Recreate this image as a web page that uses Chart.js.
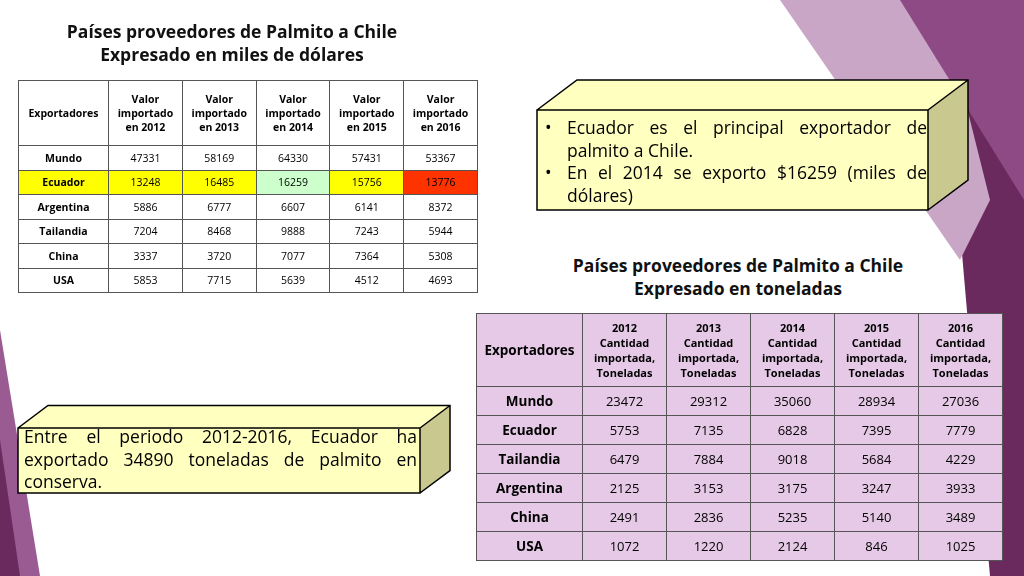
<!DOCTYPE html><html><head><meta charset="utf-8">
<script src="https://cdn.jsdelivr.net/npm/chart.js"></script>
<style>
body{margin:0;width:1024px;height:576px;overflow:hidden;background:#fff;font-family:"Open Sans","DejaVu Sans",sans-serif;position:relative}
.abs{position:absolute}
table{border-collapse:collapse;position:absolute;table-layout:fixed}
td{border:1px solid #555;text-align:center;padding:0;color:#000}
#t1 td{font-size:10.5px;height:23.5px}
#t1 tr:first-child td{height:64px;font-weight:bold}
#t1 td:first-child{font-weight:bold}
#t2 td{font-size:13px;height:28px;background:#e6c9e6}
#t2 tr:first-child td{height:72px;font-size:11px;font-weight:bold}
#t2 td:first-child,#t2 tr:first-child td:first-child{font-weight:bold;font-size:13.5px}
.title{font-weight:bold;font-size:17.5px;text-align:center;line-height:23px;color:#111}
.b{display:flex}.b span{width:22px;flex:none}.b div{flex:1;text-align:justify}
</style></head><body>
<canvas id="bg" class="abs" width="1024" height="576" style="left:0;top:0"></canvas>
<div class="title abs" style="left:20px;top:20px;width:424px">Países proveedores de Palmito a Chile<br>Expresado en miles de dólares</div>
<table id="t1" style="left:18px;top:80px;width:459px"></table>
<div class="abs" style="left:528px;top:250px;width:420px;height:52px;background:#fff"></div>
<div class="title abs" style="left:528px;top:254px;width:420px">Países proveedores de Palmito a Chile<br>Expresado en toneladas</div>
<table id="t2" style="left:476px;top:313px;width:526px"></table>
<div class="abs" style="left:545px;top:116px;width:382px;font-size:17.5px;line-height:22.5px">
<div class="b"><span>•</span><div>Ecuador es el principal exportador de palmito a Chile.</div></div>
<div class="b"><span>•</span><div>En el 2014 se exporto $16259 (miles de dólares)</div></div></div>
<div class="abs" style="left:24px;top:425px;width:393px;font-size:17.5px;line-height:22.5px;text-align:justify">Entre el periodo 2012-2016, Ecuador ha exportado 34890 toneladas de palmito en conserva.</div>
<script>
const years=["2012","2013","2014","2015","2016"];
const t1Countries=["Mundo","Ecuador","Argentina","Tailandia","China","USA"];
const t1Mundo=[47331,58169,64330,57431,53367];
const t1Ecuador=[13248,16485,16259,15756,13776];
const t1Argentina=[5886,6777,6607,6141,8372];
const t1Tailandia=[7204,8468,9888,7243,5944];
const t1China=[3337,3720,7077,7364,5308];
const t1USA=[5853,7715,5639,4512,4693];
const t2Countries=["Mundo","Ecuador","Tailandia","Argentina","China","USA"];
const t2Mundo=[23472,29312,35060,28934,27036];
const t2Ecuador=[5753,7135,6828,7395,7779];
const t2Tailandia=[6479,7884,9018,5684,4229];
const t2Argentina=[2125,3153,3175,3247,3933];
const t2China=[2491,2836,5235,5140,3489];
const t2USA=[1072,1220,2124,846,1025];
const ecuColors=["#ffff00","#ffff00","#ffff00","#ccffcc","#ffff00","#ff3300"];
function build(id,countries,rows,hdr,first,colw){
 const t=document.getElementById(id);let cg='<colgroup><col style="width:'+first+'px">';
 years.forEach(()=>cg+='<col style="width:'+colw+'px">');cg+='</colgroup>';
 let h='<tr><td>Exportadores</td>'+years.map(hdr).join('')+'</tr>';
 countries.forEach((c,i)=>{h+='<tr>';const bg=(id=='t1'&&c=='Ecuador');
  h+='<td'+(bg?' style="background:'+ecuColors[0]+'"':'')+'>'+c+'</td>';
  rows[i].forEach((v,j)=>h+='<td'+(bg?' style="background:'+ecuColors[j+1]+'"':'')+'>'+v+'</td>');h+='</tr>';});
 t.innerHTML=cg+h;}
build('t1',t1Countries,[t1Mundo,t1Ecuador,t1Argentina,t1Tailandia,t1China,t1USA],y=>'<td>Valor<br>importado<br>en '+y+'</td>',90,73.8);
build('t2',t2Countries,[t2Mundo,t2Ecuador,t2Tailandia,t2Argentina,t2China,t2USA],y=>'<td>'+y+'<br>Cantidad<br>importada,<br>Toneladas</td>',106,84);
const deco={id:'deco',beforeDraw(ch){const c=ch.ctx;c.save();
 function poly(pts,col){c.beginPath();c.moveTo(pts[0][0],pts[0][1]);pts.slice(1).forEach(p=>c.lineTo(p[0],p[1]));c.closePath();c.fillStyle=col;c.fill();}
 poly([[940,0],[1024,0],[1024,576],[990,576]],'#6b2a5e');
 poly([[780,0],[940,0],[990,200],[960,260]],'#c9a6c6');
 poly([[900,0],[1024,0],[1024,200]],'#8e4a84');
 poly([[0,330],[40,576],[0,576]],'#9a5a92');
 poly([[0,440],[20,576],[0,576]],'#6b2a5e');
 function box(x,y,w,h,d){poly([[x,y],[x+d,y-d*0.75],[x+w+d,y-d*0.75],[x+w,y]],'#ffffc0');
  poly([[x+w,y],[x+w+d,y-d*0.75],[x+w+d,y+h-d*0.75],[x+w,y+h]],'#c9c98f');
  poly([[x,y],[x+w,y],[x+w,y+h],[x,y+h]],'#ffffc0');
  c.strokeStyle='#000';c.lineWidth=1.5;c.beginPath();c.rect(x,y,w,h);c.moveTo(x,y);c.lineTo(x+d,y-d*0.75);c.lineTo(x+w+d,y-d*0.75);c.lineTo(x+w+d,y+h-d*0.75);c.lineTo(x+w,y+h);c.moveTo(x+w,y);c.lineTo(x+w+d,y-d*0.75);c.stroke();}
 box(537,110,391,100,40);box(18,428,402,65,30);c.restore();}};
new Chart(document.getElementById('bg'),{type:'bar',data:{labels:[],datasets:[]},options:{responsive:false,animation:false,plugins:{legend:{display:false},tooltip:{enabled:false}},scales:{x:{display:false},y:{display:false}}},plugins:[deco]});
</script></body></html>
